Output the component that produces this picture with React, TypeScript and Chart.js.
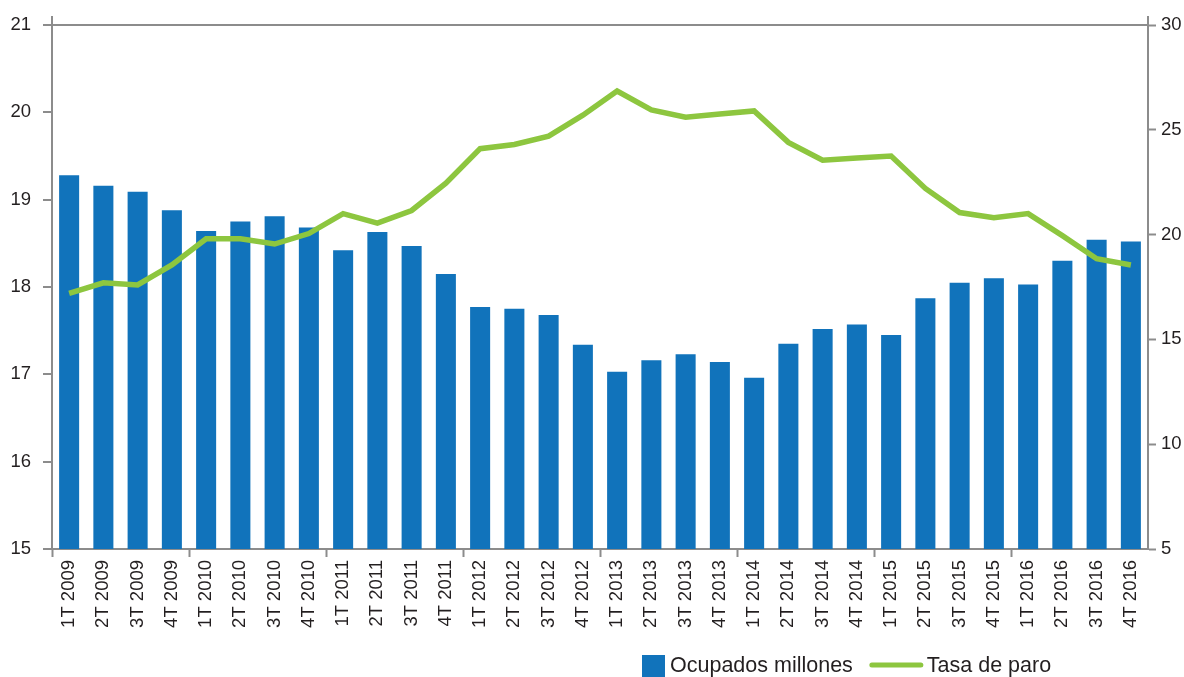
import React, { useEffect, useRef } from "react";
import { Chart, registerables } from "chart.js";

Chart.register(...registerables);

const categories = [
  "1T 2009", "2T 2009", "3T 2009", "4T 2009",
  "1T 2010", "2T 2010", "3T 2010", "4T 2010",
  "1T 2011", "2T 2011", "3T 2011", "4T 2011",
  "1T 2012", "2T 2012", "3T 2012", "4T 2012",
  "1T 2013", "2T 2013", "3T 2013", "4T 2013",
  "1T 2014", "2T 2014", "3T 2014", "4T 2014",
  "1T 2015", "2T 2015", "3T 2015", "4T 2015",
  "1T 2016", "2T 2016", "3T 2016", "4T 2016",
];

const ocupadosMillones = [
  19.28, 19.16, 19.09, 18.88,
  18.64, 18.75, 18.81, 18.68,
  18.42, 18.63, 18.47, 18.15,
  17.77, 17.75, 17.68, 17.34,
  17.03, 17.16, 17.23, 17.14,
  16.96, 17.35, 17.52, 17.57,
  17.45, 17.87, 18.05, 18.10,
  18.03, 18.30, 18.54, 18.52,
];

const tasaDeParo = [
  17.2, 17.7, 17.6, 18.55,
  19.8, 19.8, 19.55, 20.05,
  21.0, 20.55, 21.15, 22.45,
  24.1, 24.3, 24.7, 25.7,
  26.85, 25.95, 25.6, 25.75,
  25.9, 24.4, 23.55, 23.65,
  23.75, 22.2, 21.05, 20.8,
  21.0, 19.95, 18.85, 18.55,
];

const leftMin = 15;
const leftMax = 21;
const rightMin = 5;
const rightMax = 30;

const BAR_COLOR = "#1173bb";
const LINE_COLOR = "#8dc63f";
const AXIS_COLOR = "#8c8c8c";
const TEXT_COLOR = "#231f20";
const FONT_FAMILY = '"Liberation Sans", Arial, Helvetica, sans-serif';

const axisExtendPlugin = {
  id: "axisExtend",
  afterDraw(chart: any) {
    const { ctx, chartArea } = chart;
    ctx.save();
    ctx.strokeStyle = AXIS_COLOR;
    ctx.lineWidth = 2;
    ctx.beginPath();
    ctx.moveTo(chartArea.left, chartArea.top - 9);
    ctx.lineTo(chartArea.left, chartArea.top);
    ctx.moveTo(chartArea.right, chartArea.top - 9);
    ctx.lineTo(chartArea.right, chartArea.top);
    ctx.stroke();
    ctx.restore();
  },
};

const legendPlugin = {
  id: "customLegend",
  afterDraw(chart: any) {
    const ctx = chart.ctx;
    ctx.save();
    ctx.font = `21.5px ${FONT_FAMILY}`;
    ctx.textBaseline = "middle";
    const y = 666;
    let x = 642;
    const labels = [chart.data.datasets[0].label, chart.data.datasets[1].label];
    ctx.fillStyle = BAR_COLOR;
    ctx.fillRect(x, 655, 23, 23);
    x += 28;
    ctx.fillStyle = TEXT_COLOR;
    ctx.fillText(labels[0], x, y);
    x += ctx.measureText(labels[0]).width + 17;
    ctx.strokeStyle = LINE_COLOR;
    ctx.lineWidth = 5;
    ctx.lineCap = "round";
    ctx.beginPath();
    ctx.moveTo(x + 2, 665);
    ctx.lineTo(x + 51, 665);
    ctx.stroke();
    x += 57;
    ctx.fillStyle = TEXT_COLOR;
    ctx.fillText(labels[1], x, y);
    ctx.restore();
  },
};

export default function App() {
  const canvasRef = useRef<HTMLCanvasElement | null>(null);

  useEffect(() => {
    document.body.style.margin = "0";
    const canvas = canvasRef.current;
    if (!canvas) return;
    const chart = new Chart(canvas, {
      type: "bar",
      data: {
        labels: categories,
        datasets: [
          {
            type: "bar",
            label: "Ocupados millones",
            data: ocupadosMillones,
            backgroundColor: BAR_COLOR,
            borderWidth: 0,
            yAxisID: "y",
            barPercentage: 0.585,
            categoryPercentage: 1,
            order: 1,
          },
          {
            type: "line",
            label: "Tasa de paro",
            data: tasaDeParo,
            borderColor: LINE_COLOR,
            backgroundColor: LINE_COLOR,
            borderWidth: 5.5,
            pointRadius: 0,
            tension: 0,
            fill: false,
            yAxisID: "y2",
            borderJoinStyle: "miter",
            order: 0,
          } as any,
        ],
      },
      options: {
        responsive: false,
        animation: false,
        devicePixelRatio: 1,
        layout: { padding: { top: 25, left: 0, right: 0, bottom: 0 } },
        plugins: {
          legend: { display: false },
          tooltip: { enabled: false },
          title: { display: false },
        },
        scales: {
          x: {
            offset: true,
            grid: {
              offset: true,
              drawOnChartArea: false,
              drawTicks: true,
              tickLength: 8,
              tickWidth: 2,
              tickColor: (c: any) => (c.index % 4 === 0 ? AXIS_COLOR : "rgba(0,0,0,0)"),
            },
            border: { display: true, color: AXIS_COLOR, width: 2 },
            ticks: {
              autoSkip: false,
              maxRotation: 90,
              minRotation: 90,
              padding: 3,
              color: TEXT_COLOR,
              font: { family: FONT_FAMILY, size: 18.5 },
            },
            afterFit: (s: any) => {
              s.height = 128;
            },
          },
          y: {
            position: "left",
            min: leftMin,
            max: leftMax,
            ticks: {
              stepSize: 1,
              padding: 12,
              color: TEXT_COLOR,
              font: { family: FONT_FAMILY, size: 18.5 },
            },
            grid: {
              drawOnChartArea: true,
              color: (c: any) => (c.tick && c.tick.value === leftMax ? AXIS_COLOR : "rgba(0,0,0,0)"),
              lineWidth: 2,
              tickColor: AXIS_COLOR,
              tickLength: 9,
              tickWidth: 2,
            },
            border: { display: true, color: AXIS_COLOR, width: 2 },
            afterFit: (s: any) => {
              s.width = 52;
            },
          },
          y2: {
            position: "right",
            min: rightMin,
            max: rightMax,
            ticks: {
              stepSize: 5,
              padding: 5,
              color: TEXT_COLOR,
              font: { family: FONT_FAMILY, size: 18.5 },
            },
            grid: {
              drawOnChartArea: false,
              tickColor: AXIS_COLOR,
              tickLength: 8,
              tickWidth: 2,
            },
            border: { display: true, color: AXIS_COLOR, width: 2 },
            afterFit: (s: any) => {
              s.width = 36;
            },
          },
        },
      },
      plugins: [axisExtendPlugin, legendPlugin],
    });
    return () => chart.destroy();
  }, []);

  return (
    <div style={{ width: 1184, height: 677 }}>
      <canvas ref={canvasRef} width={1184} height={677} />
    </div>
  );
}
